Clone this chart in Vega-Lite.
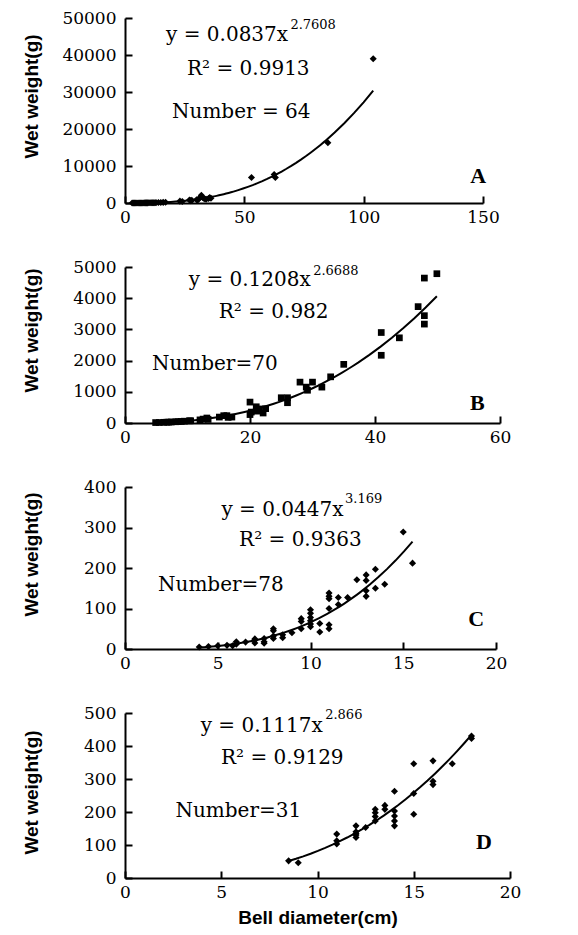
{
  "$schema": "https://vega.github.io/schema/vega-lite/v6.json",
  "padding": {"left": 22, "top": 9, "right": 5, "bottom": 5},
  "autosize": {"type": "pad"},
  "background": "white",
  "bounds": "flush",
  "spacing": 64,
  "config": {
    "view": {"stroke": null},
    "axis": {
      "grid": false,
      "domainColor": "black", "domainWidth": 2,
      "tickColor": "black", "tickWidth": 2, "tickSize": -7, "tickOpacity": 1,
      "labelFont": "DejaVu Serif", "labelFontSize": 17, "labelColor": "black",
      "labelFlush": false, "labelOverlap": false,
      "titleFont": "Liberation Sans", "titleFontSize": 19, "titleFontWeight": "bold", "titleColor": "black"
    },
    "axisY": {"minExtent": 77, "maxExtent": 77, "titlePadding": 7, "labelPadding": 16},
    "axisX": {"labelPadding": 13, "titlePadding": 8}
  },
  "datasets": {
    "A": [
      {"d":3,"w":1.7},{"d":3.5,"w":2.7},{"d":4,"w":3.8},{"d":4.5,"w":5.2},{"d":5,"w":7},{"d":5.5,"w":9},{"d":6,"w":11.5},{"d":6.5,"w":14},{"d":7,"w":18},{"d":7.5,"w":22},{"d":8,"w":26},{"d":8.5,"w":30},{"d":9,"w":36},{"d":9.5,"w":42},{"d":10,"w":48},{"d":10.5,"w":55},{"d":11,"w":63},{"d":11.5,"w":71},{"d":12,"w":79},{"d":12.5,"w":88},{"d":13,"w":99},{"d":14,"w":121},{"d":15,"w":146},{"d":16,"w":174},{"d":17,"w":206},
      {"d":23,"w":500},{"d":24,"w":420},{"d":27,"w":800},{"d":27.5,"w":650},{"d":28,"w":700},{"d":30,"w":900},{"d":30.5,"w":800},{"d":31,"w":1200},{"d":32,"w":2100},{"d":32.5,"w":1500},{"d":33,"w":1300},{"d":33.5,"w":1100},{"d":34,"w":1000},{"d":35,"w":1200},{"d":35.5,"w":1500},{"d":36,"w":1300},
      {"d":53,"w":6900},{"d":62.5,"w":7700},{"d":63,"w":6900},{"d":85,"w":16300},{"d":104,"w":39000}
    ],
    "Anotes": [
      {"kind":"main","label":"y = 0.0837x","d":17.2,"w":43800},
      {"kind":"exp","label":"2.7608","d":69.3,"w":47000},
      {"kind":"main","label":"R² = 0.9913","d":26,"w":34600},
      {"kind":"main","label":"Number = 64","d":19.7,"w":22970},
      {"kind":"tag","label":"A","d":144.7,"w":5400}
    ],
    "B": [
      {"d":4.9,"w":14},{"d":5.5,"w":16},{"d":6.2,"w":22},{"d":6.7,"w":26},{"d":7.0,"w":28},{"d":7.4,"w":32},{"d":8.1,"w":40},{"d":8.5,"w":44},{"d":9.0,"w":50},{"d":9.5,"w":58},{"d":10.3,"w":70},{"d":10.5,"w":72},{"d":12,"w":100},{"d":12.5,"w":125},{"d":13.1,"w":160},{"d":13.3,"w":115},{"d":15.1,"w":190},{"d":15.8,"w":235},{"d":16.3,"w":235},{"d":16.5,"w":180},{"d":17.1,"w":190},
      {"d":20,"w":670},{"d":20,"w":270},{"d":20.2,"w":350},{"d":21,"w":520},{"d":21.1,"w":380},{"d":21.5,"w":450},{"d":22.1,"w":320},{"d":22.5,"w":460},
      {"d":25,"w":810},{"d":26,"w":810},{"d":26,"w":650},{"d":28,"w":1310},{"d":29,"w":1150},{"d":29.2,"w":1050},{"d":30,"w":1310},{"d":31.5,"w":1150},{"d":32.9,"w":1480},{"d":35,"w":1880},
      {"d":41,"w":2900},{"d":41,"w":2170},{"d":43.9,"w":2730},{"d":46.9,"w":3730},{"d":47.9,"w":4645},{"d":47.9,"w":3440},{"d":47.9,"w":3170},{"d":49.9,"w":4785}
    ],
    "Bnotes": [
      {"kind":"main","label":"y = 0.1208x","d":10.2,"w":4390},
      {"kind":"exp","label":"2.6688","d":30.1,"w":4750},
      {"kind":"main","label":"R² = 0.982","d":15,"w":3365},
      {"kind":"main","label":"Number=70","d":4.3,"w":1710},
      {"kind":"tag","label":"B","d":55.2,"w":426}
    ],
    "C": [
      {"d":4,"w":5},{"d":4.5,"w":6},{"d":5,"w":8},{"d":5.5,"w":9},{"d":5.8,"w":8},{"d":6,"w":18},{"d":6,"w":12},{"d":6,"w":14},{"d":6.5,"w":17},{"d":7,"w":22},{"d":7,"w":15},{"d":7,"w":25},{"d":7.5,"w":18},{"d":7.5,"w":14},{"d":7.5,"w":26},
      {"d":8,"w":50},{"d":8,"w":45},{"d":8,"w":26},{"d":8,"w":32},{"d":8.5,"w":28},{"d":8.5,"w":35},{"d":9,"w":40},{"d":9.5,"w":75},{"d":9.5,"w":68},{"d":9.5,"w":50},
      {"d":10,"w":97},{"d":10,"w":88},{"d":10,"w":78},{"d":10,"w":70},{"d":10,"w":62},{"d":10,"w":55},{"d":10.5,"w":63},{"d":10.5,"w":42},
      {"d":11,"w":138},{"d":11,"w":130},{"d":11,"w":124},{"d":11,"w":100},{"d":11,"w":60},{"d":11,"w":50},{"d":11.5,"w":127},{"d":11.5,"w":110},{"d":12,"w":127},{"d":12.5,"w":171},
      {"d":13,"w":183},{"d":13,"w":169},{"d":13,"w":144},{"d":13,"w":130},{"d":13.5,"w":197},{"d":13.5,"w":150},{"d":14,"w":160},{"d":15,"w":289},{"d":15.5,"w":212}
    ],
    "Cnotes": [
      {"kind":"main","label":"y = 0.0447x","d":5.2,"w":328},
      {"kind":"exp","label":"3.169","d":11.86,"w":360},
      {"kind":"main","label":"R² = 0.9363","d":6.15,"w":253.6},
      {"kind":"main","label":"Number=78","d":1.78,"w":142.5},
      {"kind":"tag","label":"C","d":18.5,"w":57.5}
    ],
    "D": [
      {"d":8.5,"w":52},{"d":9,"w":46},{"d":11,"w":133},{"d":11,"w":113},{"d":11,"w":103},{"d":12,"w":158},{"d":12,"w":140},{"d":12,"w":135},{"d":12,"w":130},{"d":12,"w":123},{"d":12.5,"w":153},
      {"d":13,"w":208},{"d":13,"w":198},{"d":13,"w":186},{"d":13,"w":173},{"d":13.5,"w":220},{"d":13.5,"w":208},
      {"d":14,"w":263},{"d":14,"w":203},{"d":14,"w":188},{"d":14,"w":173},{"d":14,"w":158},
      {"d":15,"w":346},{"d":15,"w":256},{"d":15,"w":193},{"d":16,"w":355},{"d":16,"w":293},{"d":16,"w":283},{"d":17,"w":346},{"d":18,"w":423},{"d":18,"w":430}
    ],
    "Dnotes": [
      {"kind":"main","label":"y = 0.1117x","d":3.93,"w":441.5},
      {"kind":"exp","label":"2.866","d":10.4,"w":482},
      {"kind":"main","label":"R² = 0.9129","d":4.99,"w":345.5},
      {"kind":"main","label":"Number=31","d":2.62,"w":184},
      {"kind":"tag","label":"D","d":18.23,"w":88}
    ]
  },
  "vconcat": [
    {
      "width": 358, "height": 185,
      "encoding": {
        "x": {"field": "d", "type": "quantitative", "scale": {"domain": [0, 150], "nice": false, "zero": false},
              "axis": {"title": null, "values": [0, 50, 100, 150]}},
        "y": {"field": "w", "type": "quantitative", "scale": {"domain": [0, 50000], "nice": false},
              "axis": {"title": "Wet weight(g)", "titleY": 78, "values": [0, 10000, 20000, 30000, 40000, 50000], "format": "d"}}
      },
      "layer": [
        {"data": {"name": "A"}, "mark": {"type": "point", "shape": "diamond", "filled": true, "size": 50, "color": "black", "opacity": 1}},
        {"data": {"name": "A"}, "transform": [{"regression": "w", "on": "d", "method": "pow"}], "mark": {"type": "line", "color": "black", "strokeWidth": 2}},
        {"data": {"name": "Anotes"}, "transform": [{"filter": "datum.kind == 'main'"}], "mark": {"type": "text", "align": "left", "baseline": "alphabetic", "font": "DejaVu Serif", "fontSize": 20, "color": "black"}, "encoding": {"text": {"field": "label"}}},
        {"data": {"name": "Anotes"}, "transform": [{"filter": "datum.kind == 'exp'"}], "mark": {"type": "text", "align": "left", "baseline": "alphabetic", "font": "DejaVu Serif", "fontSize": 13, "color": "black"}, "encoding": {"text": {"field": "label"}}},
        {"data": {"name": "Anotes"}, "transform": [{"filter": "datum.kind == 'tag'"}], "mark": {"type": "text", "align": "left", "baseline": "alphabetic", "font": "Liberation Serif", "fontWeight": "bold", "fontSize": 22, "color": "black"}, "encoding": {"text": {"field": "label"}}}
      ]
    },
    {
      "width": 375, "height": 156,
      "encoding": {
        "x": {"field": "d", "type": "quantitative", "scale": {"domain": [0, 60], "nice": false, "zero": false},
              "axis": {"title": null, "values": [0, 20, 40, 60]}},
        "y": {"field": "w", "type": "quantitative", "scale": {"domain": [0, 5000], "nice": false},
              "axis": {"title": "Wet weight(g)", "titleY": 63, "values": [0, 1000, 2000, 3000, 4000, 5000], "format": "d"}}
      },
      "layer": [
        {"data": {"name": "B"}, "mark": {"type": "square", "size": 45, "color": "black", "opacity": 1}},
        {"data": {"name": "B"}, "transform": [{"regression": "w", "on": "d", "method": "pow"}], "mark": {"type": "line", "color": "black", "strokeWidth": 2}},
        {"data": {"name": "Bnotes"}, "transform": [{"filter": "datum.kind == 'main'"}], "mark": {"type": "text", "align": "left", "baseline": "alphabetic", "font": "DejaVu Serif", "fontSize": 20, "color": "black"}, "encoding": {"text": {"field": "label"}}},
        {"data": {"name": "Bnotes"}, "transform": [{"filter": "datum.kind == 'exp'"}], "mark": {"type": "text", "align": "left", "baseline": "alphabetic", "font": "DejaVu Serif", "fontSize": 13, "color": "black"}, "encoding": {"text": {"field": "label"}}},
        {"data": {"name": "Bnotes"}, "transform": [{"filter": "datum.kind == 'tag'"}], "mark": {"type": "text", "align": "left", "baseline": "alphabetic", "font": "Liberation Serif", "fontWeight": "bold", "fontSize": 22, "color": "black"}, "encoding": {"text": {"field": "label"}}}
      ]
    },
    {
      "width": 371, "height": 162,
      "encoding": {
        "x": {"field": "d", "type": "quantitative", "scale": {"domain": [0, 20], "nice": false, "zero": false},
              "axis": {"title": null, "values": [0, 5, 10, 15, 20]}},
        "y": {"field": "w", "type": "quantitative", "scale": {"domain": [0, 400], "nice": false},
              "axis": {"title": "Wet weight(g)", "titleY": 67, "values": [0, 100, 200, 300, 400], "format": "d"}}
      },
      "layer": [
        {"data": {"name": "C"}, "mark": {"type": "point", "shape": "diamond", "filled": true, "size": 50, "color": "black", "opacity": 1}},
        {"data": {"name": "C"}, "transform": [{"regression": "w", "on": "d", "method": "pow"}], "mark": {"type": "line", "color": "black", "strokeWidth": 2}},
        {"data": {"name": "Cnotes"}, "transform": [{"filter": "datum.kind == 'main'"}], "mark": {"type": "text", "align": "left", "baseline": "alphabetic", "font": "DejaVu Serif", "fontSize": 20, "color": "black"}, "encoding": {"text": {"field": "label"}}},
        {"data": {"name": "Cnotes"}, "transform": [{"filter": "datum.kind == 'exp'"}], "mark": {"type": "text", "align": "left", "baseline": "alphabetic", "font": "DejaVu Serif", "fontSize": 13, "color": "black"}, "encoding": {"text": {"field": "label"}}},
        {"data": {"name": "Cnotes"}, "transform": [{"filter": "datum.kind == 'tag'"}], "mark": {"type": "text", "align": "left", "baseline": "alphabetic", "font": "Liberation Serif", "fontWeight": "bold", "fontSize": 22, "color": "black"}, "encoding": {"text": {"field": "label"}}}
      ]
    },
    {
      "width": 385, "height": 165,
      "encoding": {
        "x": {"field": "d", "type": "quantitative", "scale": {"domain": [0, 20], "nice": false, "zero": false},
              "axis": {"title": "Bell diameter(cm)", "values": [0, 5, 10, 15, 20]}},
        "y": {"field": "w", "type": "quantitative", "scale": {"domain": [0, 500], "nice": false},
              "axis": {"title": "Wet weight(g)", "titleY": 79, "values": [0, 100, 200, 300, 400, 500], "format": "d"}}
      },
      "layer": [
        {"data": {"name": "D"}, "mark": {"type": "point", "shape": "diamond", "filled": true, "size": 50, "color": "black", "opacity": 1}},
        {"data": {"name": "D"}, "transform": [{"regression": "w", "on": "d", "method": "pow"}], "mark": {"type": "line", "color": "black", "strokeWidth": 2}},
        {"data": {"name": "Dnotes"}, "transform": [{"filter": "datum.kind == 'main'"}], "mark": {"type": "text", "align": "left", "baseline": "alphabetic", "font": "DejaVu Serif", "fontSize": 20, "color": "black"}, "encoding": {"text": {"field": "label"}}},
        {"data": {"name": "Dnotes"}, "transform": [{"filter": "datum.kind == 'exp'"}], "mark": {"type": "text", "align": "left", "baseline": "alphabetic", "font": "DejaVu Serif", "fontSize": 13, "color": "black"}, "encoding": {"text": {"field": "label"}}},
        {"data": {"name": "Dnotes"}, "transform": [{"filter": "datum.kind == 'tag'"}], "mark": {"type": "text", "align": "left", "baseline": "alphabetic", "font": "Liberation Serif", "fontWeight": "bold", "fontSize": 22, "color": "black"}, "encoding": {"text": {"field": "label"}}}
      ]
    }
  ]
}
